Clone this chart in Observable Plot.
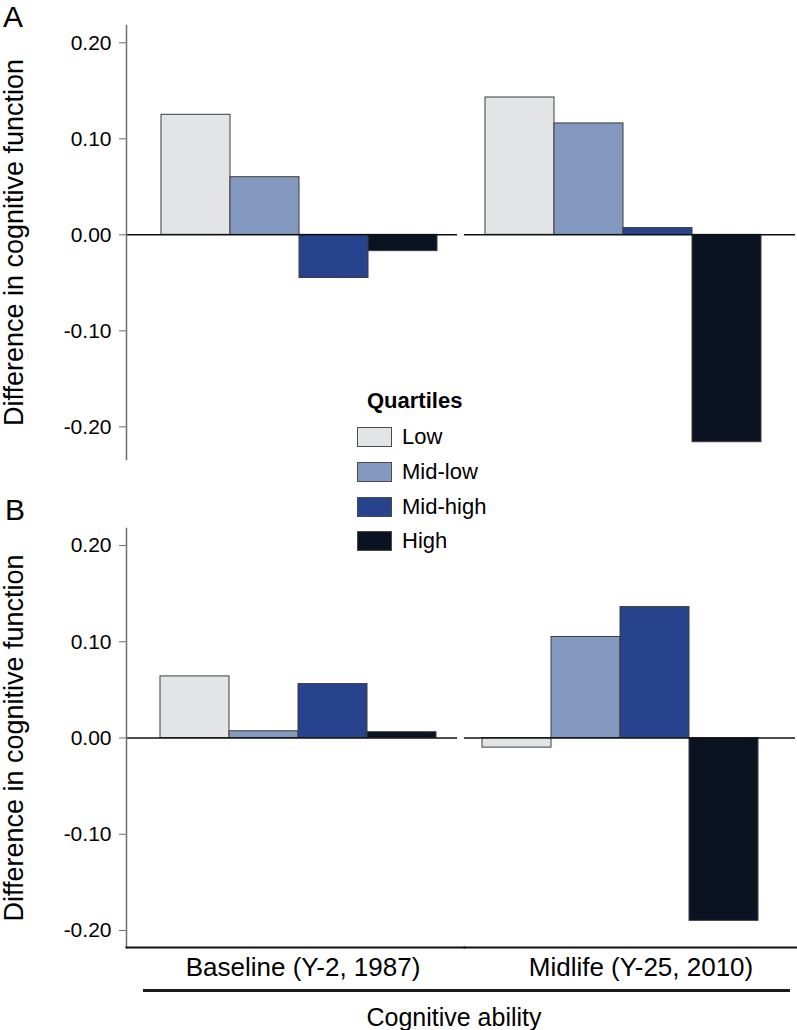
<!DOCTYPE html>
<html>
<head>
<meta charset="utf-8">
<script src="https://cdn.jsdelivr.net/npm/d3@7"></script>
<script src="https://cdn.jsdelivr.net/npm/@observablehq/plot@0.6"></script>
<style>
  body { margin: 0; background: #fff; }
  #wrap { position: relative; width: 797px; height: 1030px; overflow: hidden; background: #fff;
          font-family: "Liberation Sans", Arial, Helvetica, sans-serif; color: #000; }
  .abs { position: absolute; }
  .letter { font-size: 30px; line-height: 30px; }
  .legTitle { font-size: 22px; font-weight: bold; line-height: 1; }
  .legBox { width: 35px; height: 20px; box-sizing: border-box; border: 1px solid #4a4a4a; }
  .legText { font-size: 22px; line-height: 22px; white-space: nowrap; }
  .xTitle { font-size: 25px; line-height: 1; white-space: nowrap; transform: translateX(-50%); }
  .rule { height: 3px; background: #1a1a1a; }
</style>
</head>
<body>
<div id="wrap"></div>
<script>
// ---------- data ----------
const quartiles = ["Low", "Mid-low", "Mid-high", "High"];
const periods = ["Baseline (Y-2, 1987)", "Midlife (Y-25, 2010)"];
const colors = ["#e3e4e6", "#8499bf", "#27438e", "#0b1221"];

const panelA_baseline = [0.125, 0.060, -0.045, -0.017];
const panelA_midlife  = [0.143, 0.116, 0.007, -0.216];
const panelB_baseline = [0.064, 0.007, 0.056, 0.006];
const panelB_midlife  = [-0.010, 0.105, 0.136, -0.190];

const yTicks = [-0.2, -0.1, 0, 0.1, 0.2];
const yLabel = "Difference in cognitive function";
const xTitle = "Cognitive ability";
const legendTitle = "Quartiles";
const panelLetters = ["A", "B"];

// ---------- build rows ----------
function rowsFor(baseline, midlife) {
  const out = [];
  [baseline, midlife].forEach((vals, pi) => {
    vals.forEach((v, qi) => out.push({period: periods[pi], quartile: quartiles[qi], value: v}));
  });
  return out;
}

const FONT = '"Liberation Sans", Arial, Helvetica, sans-serif';

function panel({rows, yDomain, height, marginTop, marginBottom, bottomAxis, dxs}) {
  const marks = [
    Plot.barY(rows.filter(d => d.period === periods[0]), {
      fx: "period", x: "quartile", y: "value", fill: "quartile",
      stroke: "#3c3c3c", strokeWidth: 1, dx: dxs[0]
    }),
    Plot.barY(rows.filter(d => d.period === periods[1]), {
      fx: "period", x: "quartile", y: "value", fill: "quartile",
      stroke: "#3c3c3c", strokeWidth: 1, dx: dxs[1]
    }),
    Plot.ruleY([0], {stroke: "#111", strokeWidth: 1.6}),
    Plot.frame({anchor: "left", facetAnchor: "left", stroke: "#6e6e6e", strokeWidth: 1.5}),
    Plot.axisY(yTicks, {
      anchor: "left", tickSize: 7, tickPadding: 8, stroke: "#6e6e6e",
      tickFormat: d => d.toFixed(2), fontSize: 21, label: null
    }),
    Plot.axisY([], {
      anchor: "left", tickSize: 0, label: yLabel, labelAnchor: "center",
      labelArrow: "none", labelOffset: 123, fontSize: 27
    })
  ];
  if (bottomAxis) {
    marks.push(Plot.axisFx({anchor: "bottom", tickSize: 0, tickPadding: 10, fontSize: 26, dx: 11, label: null}));
    marks.push(Plot.frame({anchor: "bottom", stroke: "#111", strokeWidth: 2, insetRight: -7}));
  }
  return Plot.plot({
    width: 797,
    height,
    marginLeft: 126,
    marginRight: 2,
    marginTop,
    marginBottom,
    style: {fontFamily: FONT, fontSize: "21px", background: "transparent", overflow: "visible", color: "#000"},
    fx: {domain: periods, paddingInner: 7 / 338, paddingOuter: 0, axis: bottomAxis ? undefined : null, label: null},
    x: {domain: quartiles, paddingInner: 0, paddingOuter: 0.39, axis: null},
    y: {domain: yDomain},
    color: {domain: quartiles, range: colors},
    marks
  });
}

const wrap = document.getElementById("wrap");

const svgA = panel({
  rows: rowsFor(panelA_baseline, panelA_midlife),
  yDomain: [-0.234, 0.218], height: 470, marginTop: 25, marginBottom: 11,
  bottomAxis: false, dxs: [7, -7]
});
svgA.style.position = "absolute"; svgA.style.left = "0px"; svgA.style.top = "0px";
wrap.appendChild(svgA);

const svgB = panel({
  rows: rowsFor(panelB_baseline, panelB_midlife),
  yDomain: [-0.2177, 0.2177], height: 530, marginTop: 28, marginBottom: 83,
  bottomAxis: true, dxs: [6, -10]
});
svgB.style.position = "absolute"; svgB.style.left = "0px"; svgB.style.top = "500px";
wrap.appendChild(svgB);

// panel letters
function addDiv(cls, text, left, top, extra) {
  const d = document.createElement("div");
  d.className = "abs " + cls;
  if (text != null) d.textContent = text;
  d.style.left = left + "px";
  d.style.top = top + "px";
  if (extra) Object.assign(d.style, extra);
  wrap.appendChild(d);
  return d;
}
addDiv("letter", panelLetters[0], 3, 2);
addDiv("letter", panelLetters[1], 5, 495);

// legend
addDiv("legTitle", legendTitle, 367, 390);
quartiles.forEach((q, i) => {
  const top = 427 + i * 34.8;
  addDiv("legBox", null, 357, top, {background: colors[i]});
  addDiv("legText", q, 402, top - 1);
});

// bottom title with rule
addDiv("rule", null, 143, 989, {width: "647px"});
addDiv("xTitle", xTitle, 454, 1005);
</script>
</body>
</html>
